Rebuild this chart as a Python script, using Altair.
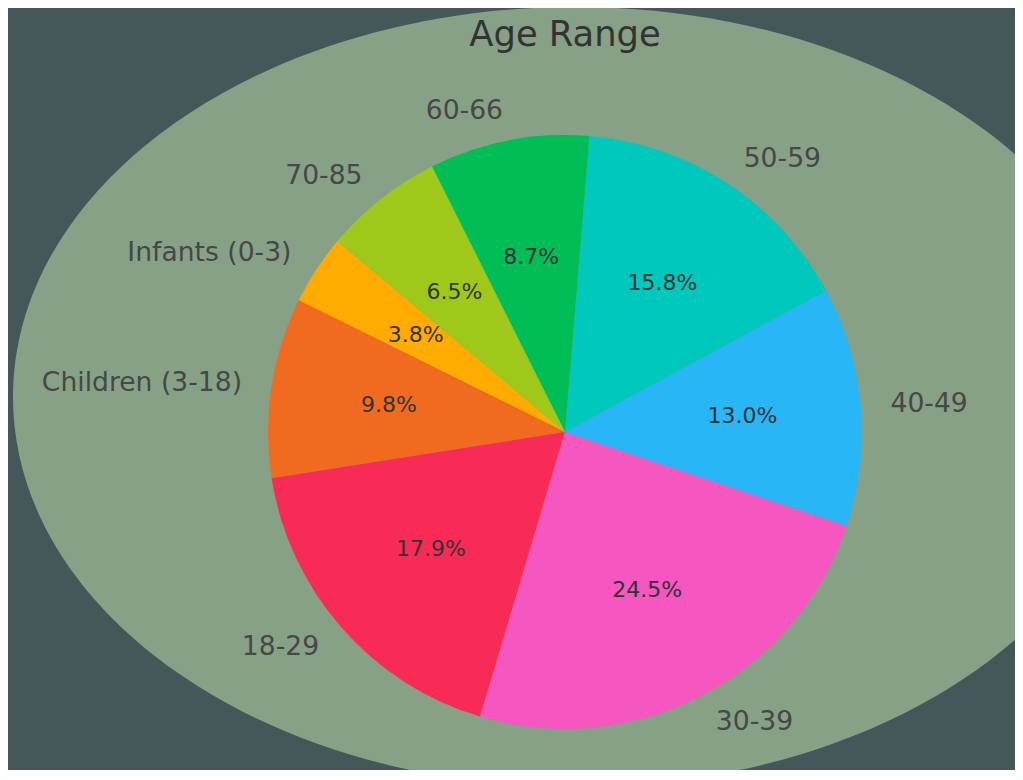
import math
import altair as alt
import pandas as pd

# ---- data ----
groups = ["Infants (0-3)", "Children (3-18)", "18-29", "30-39", "40-49", "50-59", "60-66", "70-85"]
shares = [3.8, 9.8, 17.9, 24.5, 13.0, 15.8, 8.7, 6.5]
colors = ["#ffab00", "#f06a1f", "#f72b55", "#f656c0", "#29b6f6", "#00c8bd", "#00bd55", "#9ec81a"]
title_text = "Age Range"

# matplotlib-like layout: startangle 140 deg, counter-clockwise
start_math = 140.0
rows = []
cum = 0.0
for i, (g, s) in enumerate(zip(groups, shares)):
    mid = start_math + (cum + s / 2) * 3.6
    cum += s
    left_side = math.cos(math.radians(mid)) < 0
    rows.append({
        "idx": i,
        "group": g,
        "share": s,
        "pct": f"{s:.1f}%",
        "lab_left": g if left_side else "",
        "lab_right": "" if left_side else g,
    })
df = pd.DataFrame(rows)

CX, CY, R = 557, 424, 297
# clockwise (Vega) start for the reversed order
theta0 = math.radians(90 - start_math) + 2 * math.pi
theta_scale = alt.Scale(range=[theta0, theta0 + 2 * math.pi])

base = alt.Chart(df).encode(
    theta=alt.Theta("share:Q", stack=True, scale=theta_scale),
    order=alt.Order("idx:Q", sort="descending"),
    x=alt.value(CX),
    y=alt.value(CY),
)

pie = base.mark_arc(radius=R, strokeWidth=0).encode(
    color=alt.Color("group:N", scale=alt.Scale(domain=groups, range=colors), legend=None)
)

pct = base.mark_text(radius=R * 0.6, font="DejaVu Sans", fontSize=22, color="#333333",
                     align="center", baseline="middle").encode(text="pct:N")

lab_r = base.mark_text(radius=R * 1.1, font="DejaVu Sans", fontSize=26.6, color="#474747",
                       align="left", baseline="middle").encode(text="lab_right:N")
lab_l = base.mark_text(radius=R * 1.1, font="DejaVu Sans", fontSize=26.6, color="#474747",
                       align="right", baseline="middle").encode(text="lab_left:N")

# background ellipse
ratio = 390 / 562
ell_path = f"M -1 0 A 1 {ratio:.4f} 0 1 1 1 0 A 1 {ratio:.4f} 0 1 1 -1 0 Z"
ellipse = alt.Chart(pd.DataFrame({"k": [0]})).mark_point(
    shape=ell_path, filled=True, color="#87a186", fill="#87a186", opacity=1, strokeWidth=0
).encode(x=alt.value(567), y=alt.value(389), size=alt.value(1124 * 1124))

title = alt.Chart(pd.DataFrame({"t": [title_text]})).mark_text(
    font="DejaVu Sans", fontSize=35.3, color="#333333", align="center", baseline="middle"
).encode(x=alt.value(557), y=alt.value(27), text="t:N")

chart = alt.layer(ellipse, pie, pct, lab_r, lab_l, title).properties(
    width=1007, height=762, padding=0, background="#44585a",
    autosize=alt.AutoSizeParams(type="none"),
).configure_view(strokeWidth=0)

chart.save("out.html", embed_options={"renderer": "svg", "actions": False})
